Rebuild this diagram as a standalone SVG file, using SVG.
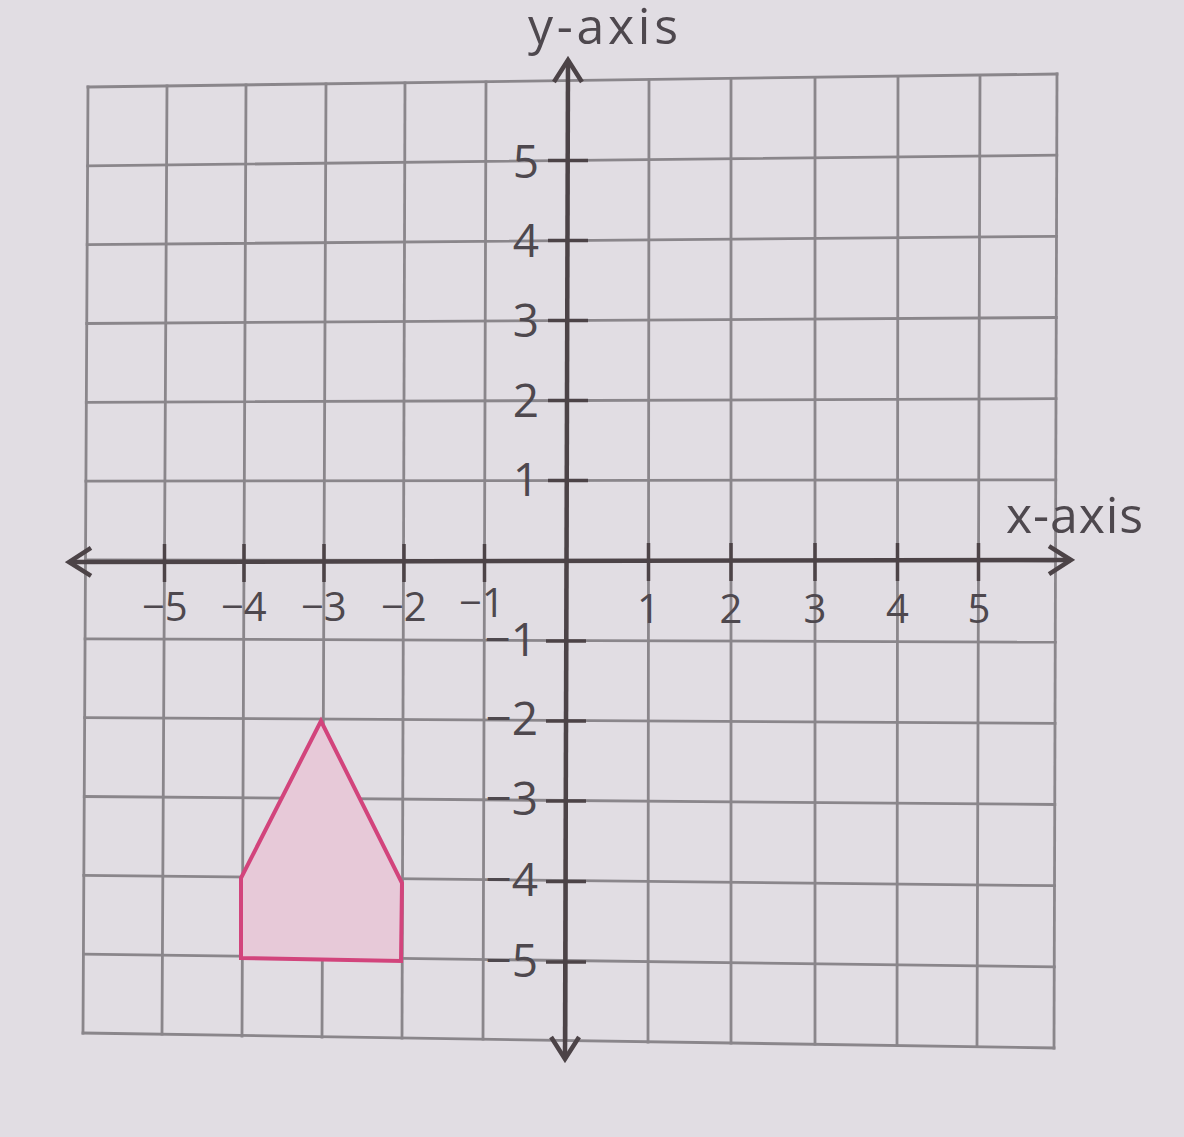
<svg xmlns="http://www.w3.org/2000/svg" width="1184" height="1137" viewBox="0 0 1184 1137">
  <defs>
    <style>
      .grid line { stroke: #8a868b; stroke-width: 2.8; stroke-linecap: square; }
      .axis { stroke: #4c4347; stroke-width: 4.5; fill: none; }
      .tick { stroke: #4c4347; stroke-width: 3.5; }
      .lbl { font-family: "Open Sans", "Noto Sans", "DejaVu Sans", sans-serif; fill: #4e484e; }
      .xl { font-size: 40px; }
      .yl { font-size: 46px; text-anchor: end; }
      .title { font-size: 50px; }
      .shape { fill: #e7c9d8; stroke: #d2447c; stroke-width: 4; stroke-linejoin: miter; }
    </style>
    <marker id="chev" viewBox="-26 -16 30 32" markerWidth="30" markerHeight="32" refX="0" refY="0" markerUnits="userSpaceOnUse" orient="auto-start-reverse">
      <path d="M -22 -14 L 0 0 L -22 14" fill="none" stroke="#4c4347" stroke-width="4.5" stroke-linejoin="miter"/>
    </marker>
  </defs>

  <rect x="0" y="0" width="1184" height="1137" fill="#e1dde3"/>

  <g id="grid" class="grid">
    <!-- vertical grid lines -->
    <line x1="88" y1="87" x2="83" y2="1033"/>
    <line x1="167" y1="86" x2="162" y2="1034"/>
    <line x1="246" y1="85" x2="242" y2="1036"/>
    <line x1="326" y1="84" x2="322" y2="1037"/>
    <line x1="405" y1="83" x2="402" y2="1038"/>
    <line x1="486" y1="82" x2="483" y2="1039"/>
    <line x1="568" y1="81" x2="566" y2="1040"/>
    <line x1="649" y1="80" x2="648" y2="1042"/>
    <line x1="731" y1="79" x2="731" y2="1043"/>
    <line x1="815" y1="78" x2="815" y2="1044"/>
    <line x1="898" y1="77" x2="897" y2="1045"/>
    <line x1="980" y1="76" x2="977" y2="1046"/>
    <line x1="1057" y1="74" x2="1054" y2="1048"/>
    <!-- horizontal grid lines -->
    <line x1="88" y1="87" x2="1057" y2="74"/>
    <line x1="87.6" y1="165.8" x2="1056.8" y2="155.2"/>
    <line x1="87.2" y1="244.7" x2="1056.5" y2="236.3"/>
    <line x1="86.8" y1="323.5" x2="1056.3" y2="317.5"/>
    <line x1="86.3" y1="402.3" x2="1056" y2="398.7"/>
    <line x1="85.9" y1="481.2" x2="1055.8" y2="479.8"/>
    <line x1="85.5" y1="560" x2="1055.5" y2="561"/>
    <line x1="85.1" y1="638.8" x2="1055.3" y2="642.2"/>
    <line x1="84.7" y1="717.7" x2="1055" y2="723.4"/>
    <line x1="84.3" y1="796.5" x2="1054.8" y2="804.5"/>
    <line x1="83.8" y1="875.3" x2="1054.5" y2="885.7"/>
    <line x1="83.4" y1="954.2" x2="1054.3" y2="966.9"/>
    <line x1="83" y1="1033" x2="1054" y2="1048"/>
  </g>

  <g id="shape">
    <polygon class="shape" points="321,721 241,878 241,958 401,961 402,883"/>
  </g>

  <g id="connectors">
    <line id="x-axis-line" class="axis" x1="69" y1="562" x2="1071" y2="560" marker-start="url(#chev)" marker-end="url(#chev)"/>
    <line id="y-axis-line" class="axis" x1="568" y1="60" x2="565" y2="1059" marker-start="url(#chev)" marker-end="url(#chev)"/>
  </g>

  <g id="x-ticks" class="tick">
    <line x1="164.5" y1="544" x2="164.5" y2="582"/>
    <line x1="244" y1="544" x2="244" y2="582"/>
    <line x1="324" y1="544" x2="324" y2="582"/>
    <line x1="404" y1="544" x2="404" y2="582"/>
    <line x1="484.5" y1="544" x2="484.5" y2="582"/>
    <line x1="648.5" y1="543" x2="648.5" y2="581"/>
    <line x1="731" y1="543" x2="731" y2="581"/>
    <line x1="815" y1="543" x2="815" y2="581"/>
    <line x1="897.5" y1="543" x2="897.5" y2="581"/>
    <line x1="978.5" y1="543" x2="978.5" y2="581"/>
  </g>

  <g id="y-ticks" class="tick">
    <line x1="548" y1="160.5" x2="588" y2="160.5"/>
    <line x1="548" y1="240.5" x2="588" y2="240.5"/>
    <line x1="548" y1="320.5" x2="588" y2="320.5"/>
    <line x1="548" y1="400.5" x2="588" y2="400.5"/>
    <line x1="548" y1="480.5" x2="588" y2="480.5"/>
    <line x1="546" y1="641" x2="586" y2="641"/>
    <line x1="546" y1="721" x2="586" y2="721"/>
    <line x1="546" y1="801" x2="586" y2="801"/>
    <line x1="546" y1="881.5" x2="586" y2="881.5"/>
    <line x1="546" y1="962" x2="586" y2="962"/>
  </g>

  <g id="x-labels" class="lbl xl">
    <text x="142" y="621">−5</text>
    <text x="221" y="621">−4</text>
    <text x="301" y="621">−3</text>
    <text x="381" y="621">−2</text>
    <text x="459" y="617">−1</text>
    <text x="648.5" y="623" text-anchor="middle">1</text>
    <text x="731" y="623" text-anchor="middle">2</text>
    <text x="815" y="623" text-anchor="middle">3</text>
    <text x="897.5" y="623" text-anchor="middle">4</text>
    <text x="979" y="623" text-anchor="middle">5</text>
  </g>

  <g id="y-labels" class="lbl yl">
    <text x="539" y="178">5</text>
    <text x="539" y="257">4</text>
    <text x="539" y="337">3</text>
    <text x="539" y="417">2</text>
    <text x="539" y="496">1</text>
    <text x="537" y="656">−1</text>
    <text x="538" y="735">−2</text>
    <text x="538" y="815">−3</text>
    <text x="538" y="896">−4</text>
    <text x="538" y="977">−5</text>
  </g>

  <g id="titles" class="lbl title">
    <text id="y-axis-title" x="528" y="44" textLength="150" lengthAdjust="spacing">y-axis</text>
    <text id="x-axis-title" x="1006" y="533" textLength="137" lengthAdjust="spacing">x-axis</text>
  </g>
</svg>
